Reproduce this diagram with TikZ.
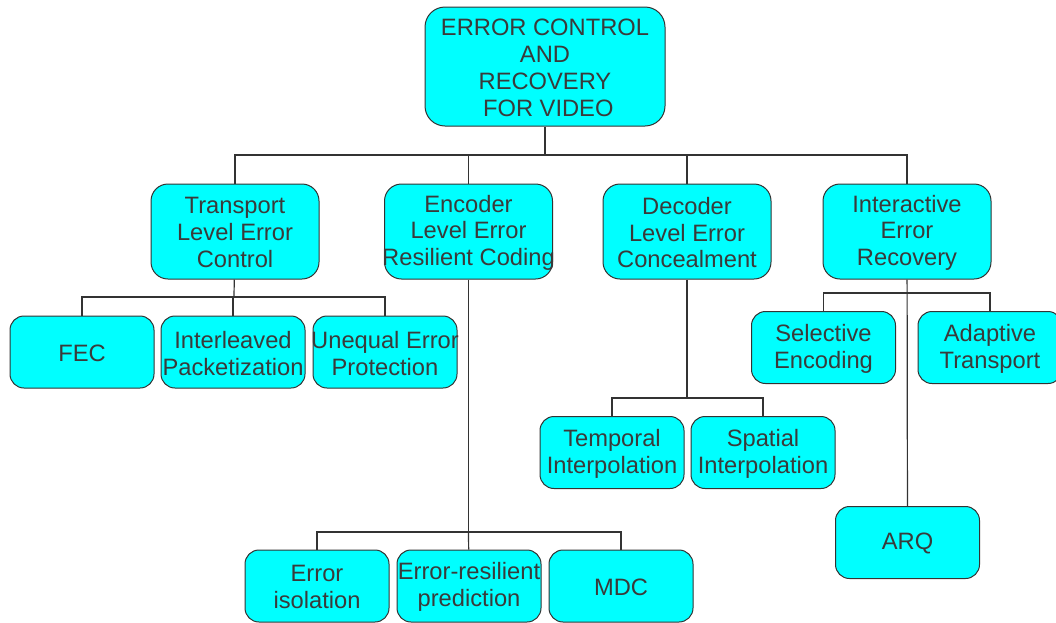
\documentclass[tikz,border=0pt]{standalone}
\usepackage{fontspec}
\setmainfont{Liberation Sans}
\definecolor{boxcyan}{HTML}{00FFFF}
\definecolor{txtgray}{HTML}{3A3A3A}
\definecolor{edgegray}{HTML}{333333}
\tikzset{
  box/.style={draw=edgegray, line width=1pt, fill=boxcyan, inner sep=0pt},
  topbox/.style={box, minimum width=240pt, minimum height=119pt, rounded corners=20pt},
  midbox/.style={box, minimum width=168pt, minimum height=95pt, rounded corners=17pt},
  leafbox/.style={box, minimum width=144pt, minimum height=72pt, rounded corners=14pt},
  lbl/.style={align=center, inner sep=0pt, yshift=-1.2pt, text=txtgray, font=\fontsize{23.7}{26.8}\selectfont},
  conn/.style={draw=edgegray, line width=1.2pt}
}
\begin{document}
\begin{tikzpicture}[x=1pt,y=-1pt]
\useasboundingbox (0,0) rectangle (1056,622);
% boxes
\node[topbox] (top) at (545,66.5) {};
\node[midbox] (tlec) at (235,231.5) {};
\node[midbox] (elrc) at (468.5,231.5) {};
\node[midbox] (dlec) at (687,231.5) {};
\node[midbox] (ier)  at (907,231.5) {};
\node[leafbox] (fec) at (82,352) {};
\node[leafbox] (ilp) at (233,352) {};
\node[leafbox] (uep) at (385,352) {};
\node[leafbox] (sel) at (823.5,347.5) {};
\node[leafbox] (adp) at (990,347.5) {};
\node[leafbox] (tmp) at (612,452.5) {};
\node[leafbox] (spa) at (763,452.5) {};
\node[leafbox] (eis) at (317,586) {};
\node[leafbox] (erp) at (469,586) {};
\node[leafbox] (mdc) at (621,586) {};
\node[leafbox] (arq) at (907.5,542.5) {};
% texts
\node[lbl] (top-t) at (top) {ERROR CONTROL\\AND\\RECOVERY\\~FOR VIDEO};
\node[lbl] (tlec-t) at (tlec) {Transport\\Level Error\\Control};
\node[lbl] (elrc-t) at (elrc) {Encoder\\Level Error\\Resilient Coding};
\node[lbl] (dlec-t) at (dlec) {Decoder\\Level Error\\Concealment};
\node[lbl] (ier-t) at (ier) {Interactive\\Error\\Recovery};
\node[lbl] (fec-t) at (fec) {FEC};
\node[lbl] (ilp-t) at (ilp) {Interleaved\\Packetization};
\node[lbl] (uep-t) at (uep) {Unequal Error\\Protection};
\node[lbl] (sel-t) at (sel) {Selective\\Encoding};
\node[lbl] (adp-t) at (adp) {Adaptive\\Transport};
\node[lbl] (tmp-t) at (tmp) {Temporal\\Interpolation};
\node[lbl] (spa-t) at (spa) {Spatial\\Interpolation};
\node[lbl] (eis-t) at (eis) {Error\\isolation};
\node[lbl] (erp-t) at (erp) {Error-resilient\\prediction};
\node[lbl] (mdc-t) at (mdc) {MDC};
\node[lbl] (arq-t) at (arq) {ARQ};
% bus coordinates
\coordinate (b0) at (545,155);
\coordinate (b1) at (234,297);
\coordinate (b2) at (468.5,532);
\coordinate (b3) at (687,398);
\coordinate (b4) at (907,293);
% connectors
\draw[conn] (top) -- (b0);
\draw[conn] (b0) -| (tlec);
\draw[conn] (b0) -| (elrc);
\draw[conn] (b0) -| (dlec);
\draw[conn] (b0) -| (ier);
\draw[conn] (tlec) -- (b1);
\draw[conn] (b1) -| (fec);
\draw[conn] (b1) -| (ilp);
\draw[conn] (b1) -| (uep);
\draw[conn] (elrc) -- (b2);
\draw[conn] (b2) -| (eis);
\draw[conn] (b2) -- (erp);
\draw[conn] (b2) -| (mdc);
\draw[conn] (dlec) -- (b3);
\draw[conn] (b3) -| (tmp);
\draw[conn] (b3) -| (spa);
\draw[conn] (ier) -- (arq);
\draw[conn] (b4) -| (sel);
\draw[conn] (b4) -| (adp);
\end{tikzpicture}
\end{document}
